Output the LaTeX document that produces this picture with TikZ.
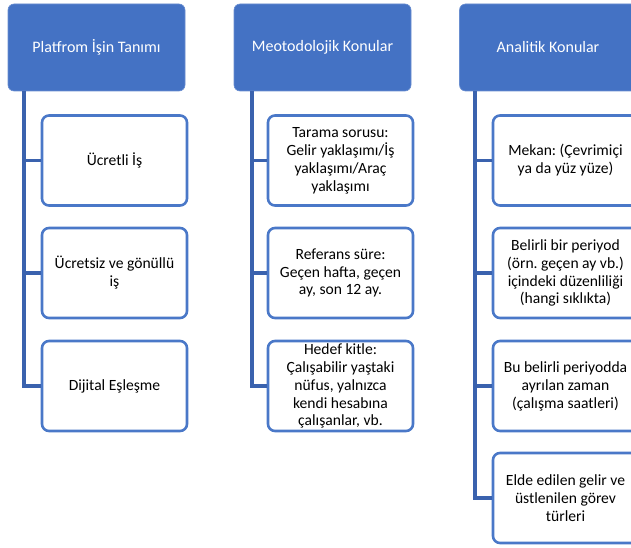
\documentclass[tikz,border=0pt]{standalone}
\usepackage{fontspec}
\setmainfont{Carlito}
\frenchspacing
\definecolor{hdrblue}{HTML}{4472C4}
\definecolor{boxblue}{HTML}{4A78C8}
\definecolor{linkblue}{HTML}{3A62AE}
\tikzset{
    header/.style={rectangle, rounded corners=6pt, fill=hdrblue, draw=hdrblue!80!white, line width=0.6pt,
        minimum width=177pt, minimum height=87pt, text=white, align=center,
        font=\fontsize{16}{19}\selectfont},
    item/.style={rectangle, rounded corners=7pt, fill=white, draw=boxblue, line width=2.6pt,
        minimum width=145pt, minimum height=90pt, inner sep=2pt, align=center,
        font=\fontsize{15.6}{17.9}\selectfont},
    link/.style={draw=linkblue, line width=3.2pt}
}
\begin{document}
\begin{tikzpicture}[x=1pt, y=-1pt]
    \clip (0,0) rectangle (631,548);
    \useasboundingbox (0,0) rectangle (631,548);

    % Draw headers
    \node[header] (p) at (96.5,47.5) {Platfrom İşin Tanımı};
    \node[header] (m) at (322.5,47.5) {Meotodolojik Konular};
    \node[header] (a) at (548,47.5) {Analitik Konular};

    % Draw items
    \node[item] (p1) at (114.5,160.5) {Ücretli İş};
    \node[item] (p2) at (114.5,273) {Ücretsiz ve gönüllü\\iş};
    \node[item] (p3) at (114.5,386) {Dijital Eşleşme};

    \node[item] (m1) at (340.5,160.5) {Tarama sorusu:\\Gelir yaklaşımı/İş\\yaklaşımı/Araç\\yaklaşımı};
    \node[item] (m2) at (340.5,273) {Referans süre:\\Geçen hafta, geçen\\ay, son 12 ay.};
    \node[item] (m3) at (340.5,386) {Hedef kitle:\\Çalışabilir yaştaki\\nüfus, yalnızca\\kendi hesabına\\çalışanlar, vb.};

    \node[item] (a1) at (565.5,160.5) {Mekan: (Çevrimiçi\\ya da yüz yüze)};
    \node[item] (a2) at (565.5,273) {Belirli bir periyod\\(örn. geçen ay vb.)\\içindeki düzenliliği\\(hangi sıklıkta)};
    \node[item] (a3) at (565.5,386) {Bu belirli periyodda\\ayrılan zaman\\(çalışma saatleri)};
    \node[item] (a4) at (565.5,498) {Elde edilen gelir ve\\üstlenilen görev\\türleri};

    % Spine start points
    \coordinate (ps) at (p.south -| 24,0);
    \coordinate (ms) at (m.south -| 252,0);
    \coordinate (as) at (a.south -| 475,0);

    % Draw connections
    \foreach \i in {1,2,3} {
        \draw[link] (ps) |- (p\i.west);
        \draw[link] (ms) |- (m\i.west);
    }
    \foreach \i in {1,2,3,4} {
        \draw[link] (as) |- (a\i.west);
    }
\end{tikzpicture}
\end{document}
